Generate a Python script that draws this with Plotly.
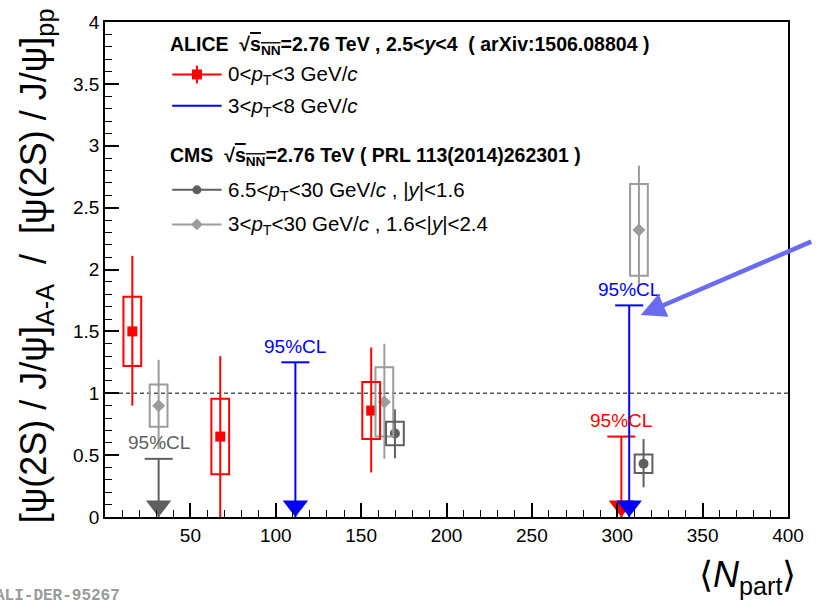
import plotly.graph_objects as go

# ---------------- data ----------------
# ALICE 0<pT<3 GeV/c
alice_lo_x = [16.0, 67.5, 155.9]
alice_lo_y = [1.50, 0.65, 0.86]
alice_lo_stat_up = [0.61, 0.65, 0.51]
alice_lo_stat_dn = [0.60, 0.70, 0.50]
alice_lo_syst = [0.28, 0.305, 0.23]

# ALICE 3<pT<8 GeV/c : 95% CL upper limits
alice_hi_ul_x = [111.5, 307.0]
alice_hi_ul = [1.25, 1.71]

# ALICE 0<pT<3 GeV/c : 95% CL upper limit (central)
alice_lo_ul_x = [302.4]
alice_lo_ul = [0.65]

# CMS 6.5<pT<30 GeV/c, |y|<1.6
cms_mid_x = [169.8, 315.4]
cms_mid_y = [0.675, 0.43]
cms_mid_stat_up = [0.195, 0.20]
cms_mid_stat_dn = [0.20, 0.19]
cms_mid_syst = [0.095, 0.075]
cms_mid_ul_x = [31.4]
cms_mid_ul = [0.47]

# CMS 3<pT<30 GeV/c, 1.6<|y|<2.4
cms_fwd_x = [31.4, 163.6, 312.7]
cms_fwd_y = [0.90, 0.93, 2.32]
cms_fwd_stat_up = [0.37, 0.47, 0.52]
cms_fwd_stat_dn = [0.35, 0.46, 0.45]
cms_fwd_syst = [0.17, 0.28, 0.37]

x_ticks = [50, 100, 150, 200, 250, 300, 350, 400]

# ---------------- styling / geometry ----------------
W, H = 816, 606
L, R, T, B = 105, 20, 17, 89
XR = [0, 400]
YR = [0, 4]
PW = W - L - R
PH = H - T - B
PX_PER_Y = PH / (YR[1] - YR[0])
PX_PER_X = PW / (XR[1] - XR[0])

RED = "#ff0000"
BLUE = "#0000ff"
DGRAY = "#5f5f5f"
LGRAY = "#9c9c9c"
FONT = "Liberation Sans, Arial, Helvetica, sans-serif"
BOX_HW = 5.2  # half width of systematic boxes (data units)
TRI = 22      # triangle marker size


def paper_x(px):
    return (px - L) / PW


def paper_y(py):
    return (H - B - py) / PH


def data_x(px):
    return XR[0] + (px - L) / PX_PER_X


def data_y(py):
    return YR[0] + (H - B - py) / PX_PER_Y


fig = go.Figure()
shapes = []


def add_points(xs, ys, up, dn, syst, color, symbol, msize):
    for x, y, s in zip(xs, ys, syst):
        shapes.append(dict(type="rect", xref="x", yref="y",
                           x0=x - BOX_HW, x1=x + BOX_HW, y0=y - s, y1=y + s,
                           line=dict(color=color, width=2), fillcolor="rgba(0,0,0,0)",
                           layer="above"))
    fig.add_trace(go.Scatter(
        x=xs, y=ys, mode="markers",
        marker=dict(symbol=symbol, size=msize, color=color, line=dict(width=0)),
        error_y=dict(type="data", symmetric=False, array=up, arrayminus=dn,
                     color=color, thickness=2, width=0),
        showlegend=False, cliponaxis=True))


def add_limits(xs, uls, color):
    sx, sy = [], []
    for x, u in zip(xs, uls):
        sx += [x, x, None]
        sy += [u, 0, None]
    fig.add_trace(go.Scatter(x=sx, y=sy, mode="lines",
                             line=dict(color=color, width=2), showlegend=False))
    fig.add_trace(go.Scatter(x=xs, y=uls, mode="markers",
                             marker=dict(symbol="line-ew", size=20,
                                         line=dict(color=color, width=2)),
                             showlegend=False))
    tri_y = [(TRI / 2) / PX_PER_Y for _ in xs]
    fig.add_trace(go.Scatter(x=xs, y=tri_y, mode="markers",
                             marker=dict(symbol="triangle-down", size=TRI, color=color,
                                         line=dict(width=0)),
                             showlegend=False, cliponaxis=False))
    for x, u in zip(xs, uls):
        fig.add_annotation(x=x, y=u, xref="x", yref="y", text="95%CL",
                           showarrow=False, yshift=16,
                           font=dict(family=FONT, size=19, color=color))


# reference line at 1
shapes.append(dict(type="line", xref="x", yref="y", x0=XR[0], x1=XR[1], y0=1, y1=1,
                   line=dict(color="#555555", width=1.5, dash="4px,3px"), layer="below"))

add_points(cms_fwd_x, cms_fwd_y, cms_fwd_stat_up, cms_fwd_stat_dn, cms_fwd_syst,
           LGRAY, "diamond", 10)
add_points(alice_lo_x, alice_lo_y, alice_lo_stat_up, alice_lo_stat_dn, alice_lo_syst,
           RED, "square", 10)
add_points(cms_mid_x, cms_mid_y, cms_mid_stat_up, cms_mid_stat_dn, cms_mid_syst,
           DGRAY, "circle", 10)

add_limits(cms_mid_ul_x, cms_mid_ul, DGRAY)
add_limits(alice_lo_ul_x, alice_lo_ul, RED)
add_limits(alice_hi_ul_x, alice_hi_ul, BLUE)

# ---------------- legend (drawn by hand) ----------------
leg_x0, leg_x1, leg_xm = 173, 223, 198
leg_text_x = 227
leg_rows = [
    (70, RED, "square", "0&lt;<i>p</i><sub>T</sub>&lt;3 GeV/<i>c</i>", True),
    (101.5, BLUE, None, "3&lt;<i>p</i><sub>T</sub>&lt;8 GeV/<i>c</i>", False),
    (186.5, DGRAY, "circle", "6.5&lt;<i>p</i><sub>T</sub>&lt;30 GeV/<i>c</i> , |<i>y</i>|&lt;1.6", False),
    (221.5, LGRAY, "diamond", "3&lt;<i>p</i><sub>T</sub>&lt;30 GeV/<i>c</i> , 1.6&lt;|<i>y</i>|&lt;2.4", False),
]
for py, col, sym, label, err in leg_rows:
    yy = data_y(py)
    fig.add_trace(go.Scatter(x=[data_x(leg_x0), data_x(leg_x1)], y=[yy, yy], mode="lines",
                             line=dict(color=col, width=2), showlegend=False))
    if sym:
        kw = {}
        if err:
            kw["error_y"] = dict(type="constant", value=9 / PX_PER_Y, color=col,
                                 thickness=2, width=0)
        fig.add_trace(go.Scatter(x=[data_x(leg_xm)], y=[yy], mode="markers",
                                 marker=dict(symbol=sym, size=9 if sym != "square" else 10,
                                             color=col, line=dict(width=0)),
                                 showlegend=False, **kw))
    fig.add_annotation(xref="paper", yref="paper", x=paper_x(leg_text_x), y=paper_y(py + 1),
                       xanchor="left", yanchor="middle", showarrow=False, text=label,
                       font=dict(family=FONT, size=20.5, color="black"))

sq = "√<span style='text-decoration:overline'>s<sub>NN</sub></span>"
headers = [
    (40, "<b>ALICE  " + sq + "=2.76 TeV , 2.5&lt;<i>y</i>&lt;4  ( arXiv:1506.08804 )</b>"),
    (151.5, "<b>CMS  " + sq + "=2.76 TeV ( PRL 113(2014)262301 )</b>"),
]
for py, txt in headers:
    fig.add_annotation(xref="paper", yref="paper", x=paper_x(169), y=paper_y(py + 1),
                       xanchor="left", yanchor="middle", showarrow=False, text=txt,
                       font=dict(family=FONT, size=19.5, color="black"))

# axis titles
fig.add_annotation(xref="paper", yref="paper", x=paper_x(35), y=paper_y(263),
                   xanchor="center", yanchor="middle", textangle=-90, showarrow=False,
                   text="[ψ(2S) / J/ψ]<sub>A-A</sub>  /  [ψ(2S) / J/ψ]<sub>pp</sub>",
                   font=dict(family=FONT, size=36, color="black"))
fig.add_annotation(xref="paper", yref="paper", x=paper_x(806), y=paper_y(578),
                   xanchor="right", yanchor="middle", showarrow=False,
                   text="⟨<i>N</i><sub>part</sub>⟩",
                   font=dict(family=FONT, size=36, color="black"))

# figure id (partly outside the page, as in the original)
fig.add_annotation(xref="paper", yref="paper", x=paper_x(122), y=paper_y(597),
                   xanchor="right", yanchor="middle", showarrow=False,
                   text="<b>ALI-DER-95267</b>",
                   font=dict(family="Liberation Mono, Courier New, monospace", size=16,
                             color="#9a9a9a"))

# pointer arrow
tip_px, tip_py = 647, 313
fig.add_annotation(x=data_x(tip_px), y=data_y(tip_py), xref="x", yref="y",
                   ax=172, ay=-74, showarrow=True, text="", arrowhead=2,
                   arrowsize=1.1, arrowwidth=4.5, arrowcolor="#6a6af2", standoff=0)

fig.update_layout(
    width=W, height=H,
    margin=dict(l=L, r=R, t=T, b=B),
    plot_bgcolor="white", paper_bgcolor="white",
    shapes=shapes,
    showlegend=False,
    xaxis=dict(range=XR, tickvals=x_ticks, ticks="inside", ticklen=14, tickwidth=1.5,
               tickcolor="black",
               minor=dict(dtick=10, ticks="inside", ticklen=7, tickwidth=1.2, tickcolor="black"),
               showline=True, linecolor="black", linewidth=1.5, mirror=True,
               showgrid=False, zeroline=False,
               tickfont=dict(family=FONT, size=19, color="black")),
    yaxis=dict(range=YR, dtick=0.5, tick0=0, ticks="inside", ticklen=14, tickwidth=1.5,
               tickcolor="black",
               minor=dict(dtick=0.1, ticks="inside", ticklen=7, tickwidth=1.2, tickcolor="black"),
               showline=True, linecolor="black", linewidth=1.5, mirror=True,
               showgrid=False, zeroline=False,
               tickfont=dict(family=FONT, size=19, color="black")),
)

fig.write_html("out.html")
